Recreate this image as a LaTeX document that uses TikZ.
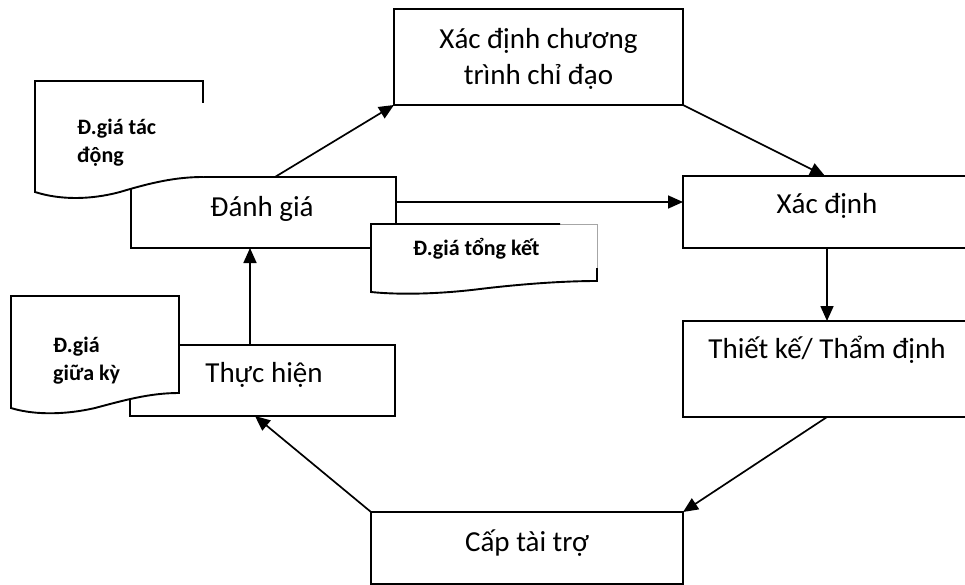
\documentclass[tikz,border=0pt]{standalone}
\usepackage{fontspec}
\setmainfont{Carlito}
\usetikzlibrary{arrows.meta,calc}
\begin{document}
\begin{tikzpicture}[x=1pt,y=-1pt,
  box/.style={draw=black, line width=1.9pt, fill=white, inner sep=0pt, outer sep=0pt},
  docline/.style={draw=black, line width=1.9pt, line join=miter},
  docfaint/.style={draw=black!35, line width=0.8pt},
  arr/.style={draw=black, line width=1.7pt, -{Triangle[length=15pt,width=13pt]}},
  main/.style={font=\fontsize{29}{36.5}\selectfont, inner sep=0pt},
  note/.style={font=\bfseries\fontsize{22}{28}\selectfont, inner sep=0pt}]
\useasboundingbox (0,0) rectangle (965,585);

% process boxes
\node[box, minimum width=289pt, minimum height=96pt] (prog) at (538.5,57) {};
\node[box, minimum width=288pt, minimum height=72pt] (xd)   at (827,212) {};
\node[box, minimum width=288pt, minimum height=96pt] (tk)   at (827,369) {};
\node[box, minimum width=312pt, minimum height=72pt] (cap)  at (527,548) {};
\node[box, minimum width=265pt, minimum height=71pt] (th)   at (262.5,380.5) {};
\node[box, minimum width=265pt, minimum height=71pt] (dg)   at (263.5,212.5) {};

% document shape: impact evaluation
\fill[white] (35,81) -- (203,81) -- (203,177)
  .. controls (175,177) and (150,183) .. (120,192)
  .. controls (90,200) and (60,200) .. (35,192) -- cycle;
\draw[docline] (203,103) -- (203,81) -- (35,81) -- (35,192)
  .. controls (60,200) and (90,200) .. (120,192)
  .. controls (150,183) and (175,177) .. (203,177);

% document shape: mid-term evaluation
\filldraw[docline, fill=white] (11,296) -- (179,296) -- (179,393)
  .. controls (150,393) and (125,400) .. (95,408)
  .. controls (60,416) and (30,414) .. (11,408) -- cycle;

% document shape: final evaluation
\fill[white] (371,224) -- (597,224) -- (597,281)
  .. controls (570,281) and (530,283) .. (480,289)
  .. controls (440,294) and (400,295) .. (371,292) -- cycle;
\draw[docfaint] (560,224) -- (597,224) -- (597,268);
\draw[docline] (560,224) -- (371,224) -- (371,292)
  .. controls (400,295) and (440,294) .. (480,289)
  .. controls (530,283) and (570,281) .. (597,281) -- (597,268);

% box labels
\node[main, anchor=base] (progA) at (538.5,48.3) {Xác định chương};
\node[main, anchor=base] (progB) at (538.5,85) {trình chỉ đạo};
\node[main, anchor=base] (dgT)   at (262,217) {Đánh giá};
\node[main, anchor=base] (xdT)   at (827,214) {Xác định};
\node[main, anchor=base] (tkT)   at (827,358) {Thiết kế/ Thẩm định};
\node[main, anchor=base] (capT)  at (527,551) {Cấp tài trợ};
\node[main, anchor=base] (thT)   at (264,382) {Thực hiện};

% document labels
\node[note, anchor=base west] (n1a) at (77,135) {Đ.giá tác};
\node[note, anchor=base west] (n1b) at (77,163) {động};
\node[note, anchor=base west] (n2)  at (413,255) {Đ.giá tổng kết};
\node[note, anchor=base west] (n3a) at (53,352) {Đ.giá};
\node[note, anchor=base west] (n3b) at (53,380) {giữa kỳ};

% connectors
\coordinate (dgUp) at ($(dg.north)+(11.5,0)$);
\draw[arr] (dgUp) -- (prog.south west);
\draw[arr] (prog.south east) -- ($(xd.north)+(-2,0)$);
\draw[arr] ($(dg.east)+(0,-10.5)$) -- ($(xd.west)+(0,-10)$);
\draw[arr] (xd.south) -- (tk.north);
\draw[arr] (tk.south) -- (cap.north east);
\draw[arr] (cap.north west) -- ($(th.south)+(-7.5,0)$);
\coordinate (thUp) at ($(th.north)+(-12.5,0)$);
\draw[arr] (thUp) -- (thUp |- dg.south);
\end{tikzpicture}
\end{document}
